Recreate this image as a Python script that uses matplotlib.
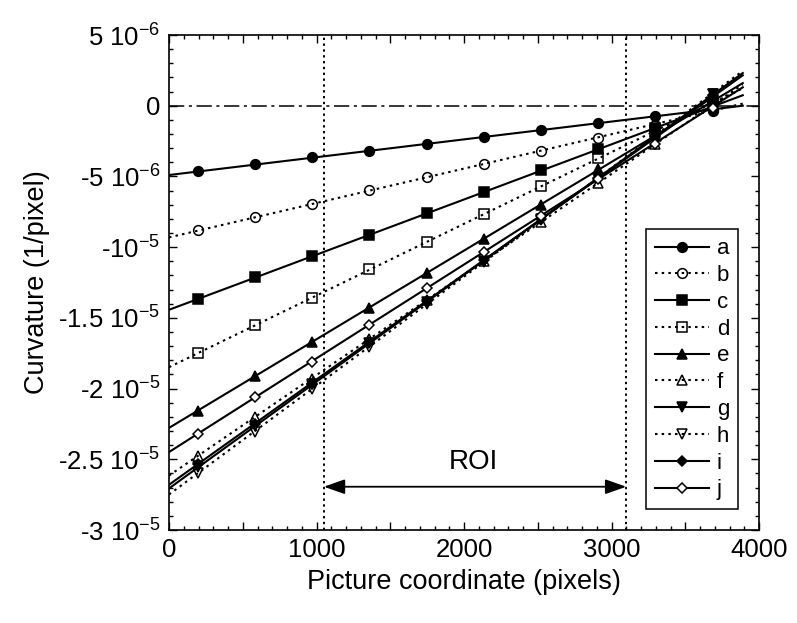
import matplotlib
matplotlib.use("Agg")
import matplotlib.pyplot as plt
from matplotlib.lines import Line2D
from matplotlib.ticker import MultipleLocator, FixedLocator, FixedFormatter
import numpy as np

plt.rcParams['font.family'] = ['Liberation Sans', 'DejaVu Sans']
plt.rcParams['mathtext.fontset'] = 'custom'
plt.rcParams['mathtext.rm'] = 'Liberation Sans'
plt.rcParams['mathtext.default'] = 'regular'

# ---- data (curvature in 1/pixel, units of 1e-6 below) ----
x_pts = [194, 582, 970, 1358, 1746, 2134, 2522, 2910, 3298, 3686]
labels = ['a', 'b', 'c', 'd', 'e', 'f', 'g', 'h', 'i', 'j']
a = [-4.62, -4.12, -3.62, -3.18, -2.71, -2.22, -1.74, -1.22, -0.73, -0.28]
b = [-8.82, -7.87, -6.92, -5.98, -5.05, -4.12, -3.20, -2.25, -1.35, -0.37]
c = [-13.66, -12.14, -10.63, -9.12, -7.60, -6.10, -4.58, -3.07, -1.55, 0.35]
d = [-17.51, -15.52, -13.58, -11.58, -9.64, -7.67, -5.70, -3.73, -1.77, 0.15]
e = [-21.57, -19.12, -16.70, -14.27, -11.85, -9.42, -6.99, -4.50, -2.10, 0.55]
f = [-24.77, -22.04, -19.33, -16.50, -13.75, -11.00, -8.24, -5.49, -2.73, 0.05]
g = [-25.55, -22.62, -19.70, -16.78, -13.88, -10.95, -8.02, -5.09, -2.16, 0.85]
h = [-26.00, -23.05, -20.05, -17.04, -14.05, -11.06, -8.07, -5.10, -2.09, 0.80]
i = [-25.36, -22.51, -19.68, -16.69, -13.79, -10.90, -8.01, -5.12, -2.23, 0.75]
j = [-23.20, -20.62, -18.10, -15.51, -12.91, -10.34, -7.77, -5.20, -2.70, -0.19]
series = [a, b, c, d, e, f, g, h, i, j]

# linear fit lines: value at x = 0 and at x = 3890 (units of 1e-6)
fit_x = [0, 3890]
fit_start = [-4.90, -9.31, -14.43, -18.49, -22.78, -26.15, -27.06, -27.49, -26.80, -24.49]
fit_end = [0.00, 0.15, 0.74, 1.23, 1.60, 1.50, 2.31, 2.46, 2.15, 1.30]

roi = [1050, 3100]
roi_y = -26.94

ytick_vals = [5, 0, -5, -10, -15, -20, -25, -30]
ytick_labels = ['5 10$^{-6}$', '0', '-5 10$^{-6}$', '-10$^{-5}$', '-1.5 10$^{-5}$',
                '-2 10$^{-5}$', '-2.5 10$^{-5}$', '-3 10$^{-5}$']
xtick_vals = [0, 1000, 2000, 3000, 4000]

# ---- styles ----
markers = ['o', 'o', 's', 's', '^', '^', 'v', 'v', 'D', 'D']
faces = ['black', 'none', 'black', 'none', 'black', 'none', 'black', 'none', 'black', 'white']
dotted = (0, (1.2, 2.0))
lstyles = ['-', dotted, '-', dotted, '-', dotted, '-', dotted, '-', '-']
msizes = [7.0, 7.0, 6.8, 6.8, 7.2, 7.2, 7.2, 7.2, 4.9, 4.9]
lw = 1.5

fig = plt.figure(figsize=(7.97, 6.23), dpi=100)
ax = fig.add_axes([169 / 797, 1 - 530 / 623, 590 / 797, 495 / 623])

scale = 1e-6
for k in range(10):
    ax.plot(fit_x, np.array([fit_start[k], fit_end[k]]) * scale, color='black',
            lw=lw, linestyle=lstyles[k], zorder=2)
    ax.plot(x_pts, np.array(series[k]) * scale, linestyle='none', marker=markers[k],
            ms=msizes[k], mfc=faces[k], mec='black', mew=1.1, zorder=3)

ax.axhline(0, color='black', lw=1.1, linestyle=(0, (10, 3, 2, 3)), zorder=1)
for rx in roi:
    ax.axvline(rx, color='black', lw=1.4, linestyle=(0, (1.2, 1.8)), zorder=1)

ax.annotate('', xy=(roi[0], roi_y * scale), xytext=(roi[1], roi_y * scale),
            arrowprops=dict(arrowstyle='<|-|>,head_length=0.85,head_width=0.3',
                            mutation_scale=15, color='black', lw=1.3,
                            shrinkA=0, shrinkB=0))
ax.text((roi[0] + roi[1]) / 2 - 10, -25.18 * scale, 'ROI', ha='center', va='center',
        fontsize=20)

ax.set_xlim(0, 4000)
ax.set_ylim(-30 * scale, 5 * scale)
ax.set_xticks(np.arange(0, 4001, 500))
ax.set_xticklabels([str(v) if v in xtick_vals else '' for v in range(0, 4001, 500)])
ax.xaxis.set_minor_locator(MultipleLocator(100))
ax.yaxis.set_major_locator(FixedLocator([v * scale for v in ytick_vals]))
ax.yaxis.set_major_formatter(FixedFormatter(ytick_labels))
ax.yaxis.set_minor_locator(MultipleLocator(1 * scale))

ax.tick_params(which='both', direction='in', top=True, right=True, width=1.0,
               labelsize=18.5, pad=6)
ax.tick_params(which='major', length=5.5)
ax.tick_params(which='minor', length=3)
for s in ax.spines.values():
    s.set_linewidth(1.2)

ax.set_xlabel('Picture coordinate (pixels)', fontsize=19.5, labelpad=5)
ax.set_ylabel('Curvature (1/pixel)', fontsize=19.5, labelpad=6)

handles = [Line2D([], [], color='black', lw=lw, linestyle=lstyles[k],
                  marker=markers[k], ms=msizes[k], mfc=faces[k], mec='black', mew=1.1)
           for k in range(10)]
leg = ax.legend(handles, labels, loc='lower left', bbox_to_anchor=(0.808, 0.042),
                borderaxespad=0, fontsize=16, handlelength=2.45, handletextpad=0.35,
                labelspacing=0.26, borderpad=0.4, fancybox=False, framealpha=1,
                edgecolor='black')
leg.get_frame().set_linewidth(1.1)

fig.savefig('out.png', dpi=100)
